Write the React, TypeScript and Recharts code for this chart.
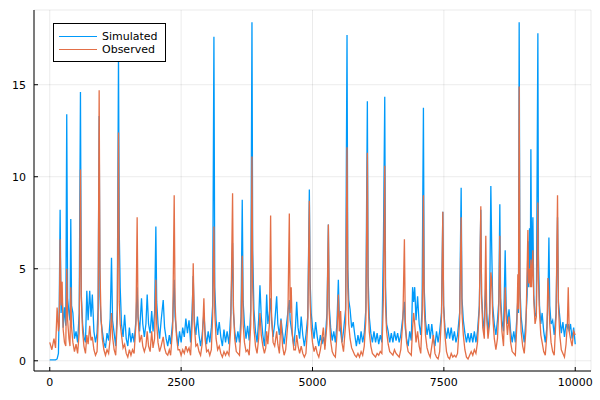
import { LineChart, Line, XAxis, YAxis, CartesianGrid, Legend } from "recharts";

// time step of each sample, one line per stretch of ~500 steps
const time = [
  0, 40, 80, 110, 140, 165, 180, 197, 215, 235, 255, 280, 305, 323, 340, 365, 385, 400, 415, 440, 470, 500,
  530, 560, 584, 600, 625, 650, 680, 705, 730, 760, 785, 810, 840, 870, 900, 920, 940, 955, 975,
  1000, 1030, 1060, 1090, 1120, 1150, 1175, 1195, 1225, 1255, 1285, 1308, 1322, 1340, 1365, 1395, 1425, 1455, 1485,
  1515, 1545, 1575, 1605, 1640, 1663, 1680, 1710, 1746, 1770, 1800, 1830, 1854, 1880, 1910, 1940, 1965, 1995, 2019, 2035,
  2060, 2090, 2120, 2159, 2185, 2215, 2245, 2275, 2300, 2340, 2368, 2385, 2410, 2440, 2470, 2500,
  2530, 2560, 2590, 2620, 2650, 2680, 2710, 2730, 2750, 2780, 2810, 2840, 2870, 2900, 2933, 2955, 2985,
  3015, 3045, 3075, 3100, 3124, 3140, 3165, 3195, 3225, 3255, 3285, 3315, 3345, 3375, 3410, 3445, 3479, 3495,
  3520, 3550, 3580, 3610, 3640, 3663, 3680, 3705, 3735, 3765, 3795, 3825, 3848, 3862, 3885, 3915, 3945, 3975,
  4000, 4025, 4055, 4085, 4110, 4128, 4150, 4180, 4203, 4220, 4250, 4280, 4318, 4340, 4370, 4400, 4430, 4460, 4490,
  4530, 4559, 4575, 4595, 4615, 4645, 4675, 4699, 4725, 4755, 4785, 4815, 4845, 4875, 4910, 4940, 4955, 4975,
  5000, 5030, 5060, 5090, 5120, 5150, 5180, 5207, 5235, 5275, 5302, 5318, 5345, 5375, 5405, 5435, 5465, 5492, 5510,
  5535, 5560, 5590, 5630, 5657, 5672, 5690, 5715, 5745, 5775, 5805, 5835, 5865, 5895, 5925, 5955, 5985, 6015, 6044,
  6058, 6080, 6110, 6140, 6170, 6200, 6230, 6260, 6290, 6320, 6350, 6375, 6390, 6410, 6440, 6470,
  6500, 6530, 6560, 6590, 6620, 6650, 6680, 6720, 6749, 6765, 6790, 6820, 6850, 6880, 6905, 6925, 6945, 6970,
  7000, 7030, 7060, 7085, 7100, 7111, 7125, 7150, 7180, 7210, 7240, 7270, 7300, 7330, 7360, 7390, 7420, 7455, 7480,
  7495, 7520, 7550, 7580, 7610, 7640, 7670, 7700, 7730, 7760, 7800, 7829, 7845, 7870, 7900, 7930, 7960, 7990,
  8020, 8050, 8080, 8110, 8140, 8175, 8203, 8218, 8240, 8270, 8298, 8315, 8340, 8370, 8394, 8410, 8430, 8460, 8490,
  8520, 8545, 8565, 8580, 8605, 8635, 8667, 8685, 8710, 8740, 8770, 8800, 8830, 8860, 8890, 8908, 8920, 8933, 8948, 8970,
  9000, 9030, 9060, 9085, 9099, 9115, 9130, 9145, 9156, 9170, 9194, 9210, 9235, 9260, 9289, 9300, 9320, 9345, 9370, 9400, 9430, 9460, 9480, 9499,
  9515, 9540, 9570, 9600, 9635, 9663, 9680, 9705, 9735, 9765, 9795, 9825, 9850, 9867, 9885, 9910, 9940, 9970, 10000,
];

const simulated = [
  0.05, 0.05, 0.05, 0.05, 0.1, 0.4, 2.8, 8.2, 2.6, 3.6, 1.8, 2.9, 1.9, 13.4, 3.4, 2.6, 2.2, 7.7, 3.0, 2.6, 1.2, 1.6,
  1.0, 2.6, 14.6, 3.6, 2.0, 1.3, 1.0, 3.8, 2.2, 3.8, 2.4, 3.6, 1.6, 1.0, 1.5, 2.9, 13.3, 3.5, 2.2,
  1.6, 1.0, 0.7, 1.5, 1.1, 2.3, 5.6, 2.2, 1.5, 0.8, 2.8, 16.6, 7.1, 4.0, 2.0, 1.3, 2.5, 1.2, 0.8,
  1.8, 1.0, 1.5, 1.0, 2.2, 4.0, 2.4, 1.6, 3.4, 2.0, 1.3, 2.0, 3.6, 2.0, 1.5, 2.7, 1.6, 2.6, 7.3, 3.2,
  2.0, 1.2, 2.2, 3.3, 1.8, 1.2, 0.8, 1.4, 0.9, 2.2, 4.4, 2.4, 1.6, 0.8, 1.6, 1.0,
  1.8, 1.3, 2.3, 1.5, 2.2, 1.0, 2.8, 4.6, 2.2, 1.4, 2.4, 1.4, 0.8, 1.4, 2.6, 1.6, 0.9,
  1.6, 1.0, 1.8, 3.0, 17.6, 4.0, 2.2, 1.4, 2.1, 1.3, 0.8, 1.7, 1.0, 1.6, 0.9, 2.6, 6.4, 2.6,
  1.6, 1.0, 1.6, 1.0, 2.4, 8.75, 3.2, 2.0, 1.2, 1.9, 1.1, 2.8, 18.4, 6.0, 2.8, 1.6, 1.0, 2.2,
  4.1, 2.4, 1.4, 0.8, 2.0, 3.6, 2.0, 2.6, 3.4, 2.2, 1.3, 2.0, 3.5, 2.0, 1.4, 2.3, 1.5, 0.9, 1.6,
  2.6, 3.3, 2.2, 1.8, 1.4, 0.8, 1.8, 3.2, 1.8, 1.2, 2.4, 1.4, 0.8, 1.4, 2.4, 9.3, 4.3, 2.6,
  1.8, 1.2, 2.1, 1.3, 0.8, 1.4, 0.9, 1.3, 0.8, 2.6, 7.4, 3.0, 1.8, 1.1, 1.6, 1.0, 2.0, 4.4, 2.4,
  1.6, 1.0, 1.6, 2.8, 17.7, 5.0, 3.3, 2.8, 1.8, 2.1, 1.4, 0.8, 1.4, 0.9, 1.6, 1.0, 1.5, 2.8, 14.1,
  4.6, 2.4, 1.5, 1.0, 1.6, 1.0, 1.5, 0.9, 1.4, 1.0, 6.5, 14.35, 4.0, 2.0, 1.6, 1.0,
  1.5, 1.0, 1.6, 1.1, 1.5, 1.0, 1.4, 2.4, 3.2, 1.8, 1.2, 0.8, 1.6, 1.1, 4.0, 3.2, 4.0, 2.2,
  3.5, 2.0, 1.4, 2.8, 9.3, 13.75, 4.0, 2.2, 1.4, 2.0, 1.2, 2.0, 1.2, 0.8, 1.6, 1.0, 1.6, 2.6, 8.1,
  3.0, 1.8, 1.2, 1.8, 1.2, 1.8, 1.1, 1.6, 1.0, 1.4, 2.6, 9.4, 3.4, 2.2, 1.5, 1.0, 1.5, 1.0,
  1.5, 1.0, 1.6, 1.0, 1.6, 3.0, 8.2, 3.6, 2.4, 1.6, 4.2, 2.6, 1.6, 2.6, 9.5, 6.2, 3.0, 2.0, 1.4,
  2.2, 3.2, 8.5, 3.4, 2.2, 1.6, 6.0, 3.0, 2.0, 2.8, 1.6, 1.0, 1.6, 1.0, 2.4, 3.4, 2.6, 18.4, 4.0, 2.4,
  1.6, 1.0, 2.2, 3.6, 6.5, 4.0, 7.2, 5.0, 11.5, 5.0, 7.8, 3.6, 2.4, 2.6, 17.8, 5.8, 3.0, 2.0, 2.6, 1.6, 1.0, 1.8, 3.0, 6.7,
  3.0, 2.0, 2.2, 1.4, 2.6, 7.8, 3.2, 2.4, 1.5, 2.1, 1.3, 2.0, 1.8, 2.0, 1.6, 2.0, 1.2, 1.8, 0.9,
];

const observed = [
  1.0, 0.6, 1.2, 0.7, 2.9, 1.6, 1.9, 6.6, 3.0, 4.3, 1.7, 1.0, 0.8, 5.0, 2.2, 1.2, 0.8, 4.0, 1.8, 1.0, 0.5, 0.9,
  0.4, 1.5, 10.4, 3.4, 1.6, 0.8, 0.4, 1.4, 0.9, 1.9, 1.1, 1.3, 0.6, 0.3, 0.5, 2.0, 14.7, 5.0, 2.4,
  1.2, 0.6, 0.3, 0.6, 0.4, 1.2, 2.6, 1.3, 0.6, 0.3, 2.2, 12.4, 3.2, 2.0, 1.4, 0.7, 0.9, 0.4, 0.2,
  0.6, 0.3, 0.6, 0.4, 2.0, 7.8, 2.4, 1.0, 1.4, 0.8, 0.5, 0.8, 1.6, 0.8, 0.5, 1.6, 0.7, 1.2, 4.4, 2.0,
  1.0, 0.5, 0.8, 1.3, 0.7, 0.4, 0.3, 0.6, 0.3, 1.8, 9.0, 3.0, 1.4, 0.6, 0.6, 0.3,
  0.6, 0.4, 0.8, 0.5, 0.7, 0.3, 2.0, 5.3, 2.0, 0.8, 0.9, 0.5, 0.3, 0.9, 3.4, 1.2, 0.5,
  0.6, 0.3, 0.6, 2.4, 7.3, 2.6, 1.2, 0.6, 0.8, 0.4, 0.2, 0.5, 0.3, 0.5, 0.3, 1.8, 9.1, 3.0,
  1.2, 0.5, 0.4, 0.3, 1.8, 5.7, 2.0, 1.0, 0.5, 0.6, 0.3, 2.0, 11.1, 4.0, 1.8, 0.8, 0.4, 1.2,
  2.6, 1.4, 0.8, 0.4, 0.7, 1.6, 0.9, 2.0, 7.9, 2.6, 1.0, 0.8, 1.6, 0.9, 0.4, 2.2, 0.8, 0.3, 0.6,
  2.0, 8.0, 2.6, 4.0, 1.5, 0.6, 0.6, 1.4, 0.8, 0.4, 0.8, 0.4, 0.2, 0.4, 2.0, 8.7, 3.2, 1.8,
  1.0, 0.5, 0.8, 0.4, 0.2, 0.6, 1.2, 1.8, 0.6, 2.0, 7.4, 2.6, 1.1, 0.5, 0.3, 0.2, 1.4, 3.6, 1.6,
  2.7, 1.0, 0.5, 2.0, 11.6, 4.0, 2.0, 1.2, 0.7, 0.5, 0.3, 0.2, 0.4, 0.2, 0.5, 0.3, 0.8, 2.2, 11.3,
  3.4, 1.6, 0.8, 0.4, 0.3, 0.2, 0.4, 0.3, 0.5, 0.4, 3.5, 10.6, 3.0, 1.6, 0.9, 0.5,
  0.4, 0.3, 0.6, 0.4, 0.3, 0.2, 0.6, 2.2, 6.6, 2.2, 1.0, 0.5, 0.4, 0.3, 1.8, 2.6, 2.0, 1.0,
  1.6, 0.8, 0.4, 2.2, 4.6, 9.0, 3.0, 1.4, 0.7, 0.4, 0.2, 0.8, 1.4, 0.4, 0.2, 0.1, 0.5, 2.4, 8.1,
  3.0, 1.4, 0.5, 0.2, 0.1, 0.4, 0.2, 0.3, 0.2, 0.4, 2.2, 7.8, 2.6, 1.4, 0.6, 0.2, 0.1, 0.3,
  0.5, 0.3, 0.6, 0.4, 1.0, 2.8, 8.4, 3.4, 1.8, 1.2, 6.8, 2.4, 1.2, 2.0, 4.8, 4.4, 2.4, 1.2, 0.6,
  1.2, 2.8, 6.8, 3.0, 1.6, 0.8, 4.0, 2.4, 1.4, 2.4, 1.0, 0.5, 0.4, 0.3, 2.0, 4.7, 2.8, 14.9, 3.6, 1.6,
  0.8, 0.4, 1.6, 5.0, 7.1, 4.2, 5.0, 4.0, 5.5, 4.0, 6.0, 3.4, 2.0, 2.4, 8.6, 4.4, 2.6, 1.4, 1.0, 0.5, 0.3, 1.4, 4.5, 3.4,
  2.0, 1.0, 0.5, 0.3, 2.4, 9.0, 3.0, 1.4, 0.6, 0.4, 0.2, 0.9, 2.0, 4.0, 1.6, 1.2, 0.8, 1.6, 1.4,
];

const xTicks = [0, 2500, 5000, 7500, 10000];
const yTicks = [0, 5, 10, 15];

const SIM_COLOR = "#009AFA";
const OBS_COLOR = "#E36F47";
const FONT = "DejaVu Sans, sans-serif";

const rows = time.map((t, i) => ({ t, sim: simulated[i], obs: observed[i] }));

const XTick = (props: any) => {
  const { x, y, payload } = props;
  return (
    <g>
      <line x1={x} x2={x} y1={y - 7} y2={y - 11} stroke="#000" strokeWidth={1} />
      <text x={x} y={y} dy="0.75em" textAnchor="middle" fontSize={11} fontFamily={FONT} fill="#000">
        {payload.value}
      </text>
    </g>
  );
};

const YTick = (props: any) => {
  const { x, y, payload } = props;
  return (
    <g>
      <line x1={x + 8} x2={x + 12} y1={y} y2={y} stroke="#000" strokeWidth={1} />
      <text x={x} y={y} dy="0.36em" textAnchor="end" fontSize={11} fontFamily={FONT} fill="#000">
        {payload.value}
      </text>
    </g>
  );
};

const LegendBox = () => (
  <div
    style={{
      border: "1px solid #000",
      background: "#fff",
      width: 111,
      height: 37,
      fontFamily: FONT,
      fontSize: 11,
      position: "relative",
    }}
  >
    {[
      { name: "Simulated", color: SIM_COLOR, top: 6 },
      { name: "Observed", color: OBS_COLOR, top: 19 },
    ].map((item) => (
      <div key={item.name} style={{ position: "absolute", left: 5, top: item.top, height: 13, display: "flex", alignItems: "center" }}>
        <div style={{ width: 38, height: 1.3, background: item.color }} />
        <span style={{ marginLeft: 5, lineHeight: "13px", color: "#000" }}>{item.name}</span>
      </div>
    ))}
  </div>
);

export default function App() {
  return (
    <div style={{ position: "absolute", left: 0, top: 0, width: 600, height: 400, background: "#fff" }}>
      <LineChart width={600} height={400} data={rows} margin={{ top: 10, right: 9, left: 0, bottom: 0 }}>
        <CartesianGrid stroke="#000" strokeOpacity={0.08} strokeWidth={1} />
        <XAxis
          dataKey="t"
          type="number"
          domain={[-300, 10300]}
          ticks={xTicks}
          allowDataOverflow
          height={29}
          stroke="#000"
          tickLine={false}
          tickSize={0}
          tickMargin={7}
          tick={<XTick />}
          interval={0}
        />
        <YAxis
          type="number"
          domain={[-0.555, 19.06]}
          ticks={yTicks}
          allowDataOverflow
          width={34}
          stroke="#000"
          tickLine={false}
          tickSize={0}
          tickMargin={8}
          tick={<YTick />}
          interval={0}
        />
        <Legend
          layout="vertical"
          align="center"
          verticalAlign="middle"
          content={<LegendBox />}
          wrapperStyle={{ position: "absolute", left: 53, top: 23, width: 113, height: 39 }}
        />
        <Line
          dataKey="sim"
          name="Simulated"
          stroke={SIM_COLOR}
          strokeWidth={1.3}
          dot={false}
          isAnimationActive={false}
          type="linear"
        />
        <Line
          dataKey="obs"
          name="Observed"
          stroke={OBS_COLOR}
          strokeWidth={1.3}
          dot={false}
          isAnimationActive={false}
          type="linear"
        />
      </LineChart>
    </div>
  );
}
